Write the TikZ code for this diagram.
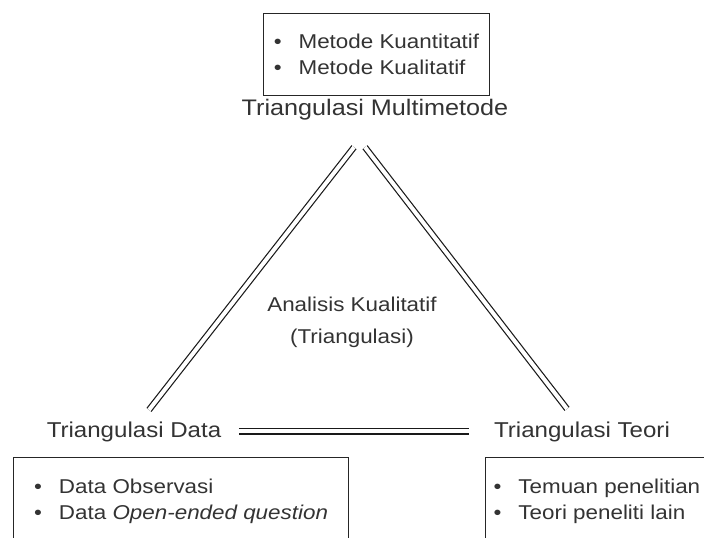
\documentclass[tikz,border=0pt]{standalone}
\usepackage{fontspec}
\setmainfont{Liberation Sans}[FakeStretch=1.12]
\usetikzlibrary{positioning}
\definecolor{txtgray}{HTML}{333333}
\newcommand{\bitem}[1]{\textbullet\hspace{17pt}#1}

\begin{document}
\begin{tikzpicture}[
    x=1pt, y=-1pt,
    lbl/.style={font=\fontsize{21.5}{24}\selectfont, text=txtgray, anchor=base},
    listbox/.style={draw=black!85, line width=1.2pt, align=left, text=txtgray,
        font=\fontsize{20}{26}\selectfont, inner xsep=10pt, inner ysep=21pt},
    dbl/.style={double, double distance=4pt, line width=1.2pt, draw=black!90},
]
\useasboundingbox (0,0) rectangle (704,538);
\clip (0,0) rectangle (704,538);

% top: multimetode
\node[listbox] (mbox) at (376.5,54.5) {\bitem{Metode Kuantitatif}\\\bitem{Metode Kualitatif}};
\node[lbl, font=\fontsize{22.5}{24}\selectfont] (multi) at (375,115) {Triangulasi Multimetode};

% centre text
\node[lbl, align=center, anchor=center, font=\fontsize{20}{32}\selectfont] (center) at (352,322) {Analisis Kualitatif\\(Triangulasi)};

% bottom corners
\node[lbl] (data) at (134,437) {Triangulasi Data};
\node[lbl] (teori) at (582,437) {Triangulasi Teori};

\node[listbox, anchor=north west, minimum width=335pt, inner xsep=20pt] (dbox) at (13,457)
    {\bitem{Data Observasi}\\\bitem{Data \textit{Open-ended question}}};
\node[listbox, anchor=north west, inner xsep=8pt] (tbox) at (485,457)
    {\bitem{Temuan penelitian}\\\bitem{Teori peneliti lain}};

% double lines of the triangle
\draw[dbl] ([shift={(-21,24)}]multi.south) -- ([shift={(15,-8)}]data.north);
\draw[dbl] ([shift={(-10,24)}]multi.south) -- ([shift={(-15,-9)}]teori.north);
\draw[dbl] ([xshift=14pt]data.east) -- ([xshift=-22pt]teori.west);
\end{tikzpicture}
\end{document}
